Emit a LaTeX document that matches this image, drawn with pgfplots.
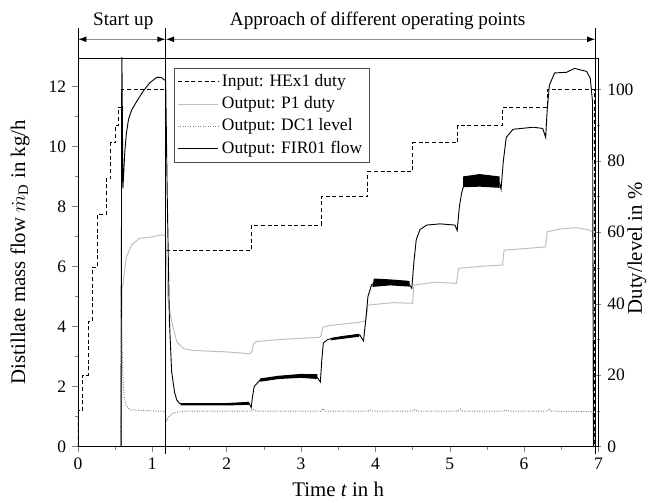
\documentclass[border=0pt]{standalone}
\usepackage{fontspec}
\setmainfont{Liberation Serif}
\usepackage{pgfplots}
\pgfplotsset{compat=1.18}
\usetikzlibrary{arrows.meta}

\begin{document}
\begin{tikzpicture}
\pgfplotsset{
  every axis/.append style={
    width=312.6pt, height=233.4pt, scale only axis,
    xmin=0, xmax=7,
    /pgf/number format/assume math mode=true,
    tick align=outside,
    major tick length=3.5pt, minor tick length=2pt,
    ticklabel style={font=\fontsize{10.5}{12}\selectfont},
    label style={font=\fontsize{12.5}{14}\selectfont},
    clip mode=individual,
  }
}

% right axis: duties and level in %
\begin{axis}[
  ymin=0, ymax=108.8,
  axis x line=none, axis y line=right,
  axis line style={-},
  ytick={0,20,...,100}, minor y tick num=1,
  ylabel={Duty/level in \%},
  ylabel style={at={(axis description cs:1.074,0.51)}, anchor=center,
    font=\fontsize{12.5}{14}\selectfont},
  legend style={at={(axis description cs:0.184,0.975)}, anchor=north west,
    draw=black!70, line width=0.4pt, font=\fontsize{10.5}{12}\selectfont,
    inner sep=2pt, row sep=0.5pt},
  legend cell align=left,
  legend image code/.code={\draw[#1] (0cm,0cm) -- (0.85cm,0cm);},
]
\addplot[black, line width=0.55pt, dash pattern=on 2.4pt off 1.6pt] coordinates {
(0,0) (0,10) (0.06,10) (0.06,20) (0.14,20) (0.14,35) (0.19,35) (0.19,50)
(0.26,50) (0.26,65) (0.38,65) (0.38,75) (0.44,75) (0.44,85) (0.51,85) (0.51,90)
(0.55,90) (0.55,95) (0.59,95) (0.59,100) (1.18,100) (1.18,55) (2.34,55) (2.34,62)
(3.27,62) (3.27,70) (3.90,70) (3.90,77) (4.50,77) (4.50,85) (5.11,85) (5.11,90)
(5.71,90) (5.71,95) (6.31,95) (6.31,100) (6.94,100) (6.94,0) (7,0)};
\addlegendentry{Input: HEx1 duty}

\addplot[black!25, line width=0.6pt] coordinates {
(0,0) (0.585,0) (0.59,44) (0.61,46) (0.65,53) (0.72,56.4) (0.83,58.3) (1.01,58.7)
(1.10,59.2) (1.18,59.2) (1.21,41.3) (1.26,35) (1.33,29.3) (1.42,27.4) (1.55,26.9)
(2.0,26.5) (2.31,26) (2.34,26.5) (2.36,28.7) (2.40,29.4) (2.67,29.9) (3.25,30.6)
(3.27,31) (3.29,33.4) (3.39,33.9) (3.79,34.8) (3.87,35.2) (3.90,39.6) (4.24,40.3)
(4.50,40.1) (4.52,45.2) (4.80,46) (5.09,45.7) (5.12,49.9) (5.45,50.5) (5.71,50.8)
(5.73,55) (6.0,55.4) (6.29,55.9) (6.31,60.1) (6.48,60.9) (6.70,61.3) (6.88,60.6)
(6.92,60) (6.93,0) (7,0)};
\addlegendentry{Output: P1 duty}

\addplot[black!50, line width=0.6pt, dash pattern=on 0.6pt off 0.9pt] coordinates {
(0,0) (0.575,0) (0.58,45) (0.60,22) (0.62,14) (0.65,11.5) (0.70,10.3) (1.10,9.9)
(1.17,9.9) (1.19,7.0) (1.22,8.3) (1.28,9.4) (1.42,9.9) (2.33,9.9) (2.36,10.5)
(2.40,9.9) (3.27,9.9) (3.30,10.6) (3.33,9.9) (3.90,9.9) (3.93,10.3) (3.96,9.9)
(4.50,9.9) (4.53,10.4) (4.56,9.9) (5.11,9.9) (5.14,10.5) (5.17,9.9) (5.72,9.9)
(5.75,10.3) (5.78,9.9) (6.31,9.9) (6.34,10.6) (6.37,9.9) (6.90,9.8) (6.93,8.5)
(6.94,0) (7,0)};
\addlegendentry{Output: DC1 level}

\addlegendimage{black, line width=0.5pt}
\addlegendentry{Output: FIR01 flow}
\end{axis}

% left axis: distillate flow in kg/h
\begin{axis}[
  ymin=0, ymax=12.95,
  xtick={0,...,7}, minor x tick num=1,
  ytick={0,2,...,12}, minor y tick num=1,
  xtick pos=bottom, ytick pos=left,
  xlabel={Time \textit{t} in h},
  ylabel={Distillate mass flow $\dot{m}_{\mathrm{D}}$ in kg/h},
  xlabel style={at={(axis description cs:0.5,-0.11)}, anchor=center},
  ylabel style={at={(axis description cs:-0.111,0.5)}, anchor=center},
]
\addplot[black, line width=0.55pt] coordinates {
(0,0) (0.58,0) (0.59,13.5) (0.605,8.6) (0.63,9.8) (0.65,10.4) (0.68,10.9)
(0.72,11.2) (0.79,11.5) (0.88,11.85) (0.97,12.13) (1.06,12.3) (1.12,12.3)
(1.16,12.22) (1.18,12.2) (1.20,8.5) (1.23,4.2) (1.26,2.5) (1.30,1.8) (1.33,1.55)
(1.37,1.43) (1.6,1.41) (2.0,1.41) (2.3,1.45) (2.33,1.3) (2.35,1.7) (2.37,2.0)
(2.45,2.22) (2.67,2.3) (2.89,2.36) (3.15,2.36) (3.22,2.3) (3.26,2.15) (3.28,2.9)
(3.30,3.45) (3.36,3.57) (3.57,3.67) (3.79,3.72) (3.84,3.52) (3.87,4.2) (3.90,5.0)
(3.95,5.4) (4.05,5.5) (4.3,5.48) (4.45,5.42) (4.49,5.27) (4.52,6.2) (4.55,6.9)
(4.60,7.23) (4.69,7.38) (4.87,7.42) (5.07,7.38) (5.10,7.2) (5.13,8.0) (5.16,8.45)
(5.20,8.8) (5.36,8.86) (5.6,8.83) (5.67,8.79) (5.69,8.57) (5.72,9.5) (5.76,10.3)
(5.85,10.57) (6.12,10.64) (6.25,10.6) (6.29,10.3) (6.31,11.2) (6.34,12.04)
(6.41,12.45) (6.57,12.47) (6.68,12.6) (6.84,12.5) (6.89,12.27) (6.92,11.5)
(6.935,0) (7,0)};
% noisy bands of the flow signal
\addplot[fill=black, draw=none, forget plot] coordinates {
(1.38,1.37) (1.38,1.45) (2.0,1.45) (2.30,1.49) (2.30,1.39) (2.0,1.37)} --cycle;
\addplot[fill=black, draw=none, forget plot] coordinates {
(2.45,2.16) (2.45,2.27) (2.7,2.36) (3.0,2.42) (3.22,2.41) (3.22,2.25) (3.0,2.29) (2.7,2.25)} --cycle;
\addplot[fill=black, draw=none, forget plot] coordinates {
(3.40,3.54) (3.40,3.62) (3.78,3.76) (3.78,3.66)} --cycle;
\addplot[fill=black, draw=none, forget plot] coordinates {
(3.96,5.32) (3.98,5.6) (4.2,5.57) (4.46,5.52) (4.46,5.33) (4.2,5.37)} --cycle;
\addplot[fill=black, draw=none, forget plot] coordinates {
(5.18,8.64) (5.18,9.0) (5.4,9.08) (5.67,9.0) (5.67,8.62) (5.4,8.66)} --cycle;

% phase separators and header
\draw[black, line width=0.5pt] (axis cs:1.18,-0.25) -- (axis cs:1.18,13.95);
\draw[black, line width=0.5pt] (axis cs:6.96,-0.25) -- (axis cs:6.96,13.95);
\draw[black, line width=0.5pt] (axis cs:0,12.95) -- (axis cs:0,13.95);
\draw[black!45, line width=0.7pt, {Latex[black,length=5pt,width=3.5pt]}-{Latex[black,length=5pt,width=3.5pt]}]
  (axis cs:0,13.57) -- (axis cs:1.18,13.57);
\draw[black!45, line width=0.7pt, {Latex[black,length=5pt,width=3.5pt]}-{Latex[black,length=5pt,width=3.5pt]}]
  (axis cs:1.18,13.57) -- (axis cs:6.96,13.57);
\node[font=\fontsize{11.5}{13}\selectfont] at (axis cs:0.61,14.17) {Start up};
\node[font=\fontsize{11.5}{13}\selectfont] at (axis cs:4.03,14.17) {Approach of different operating points};
% page extent as in the original figure
\path (axis description cs:-0.1497,-0.1414) rectangle (axis description cs:1.1017,1.149);
\end{axis}
\end{tikzpicture}
\end{document}
